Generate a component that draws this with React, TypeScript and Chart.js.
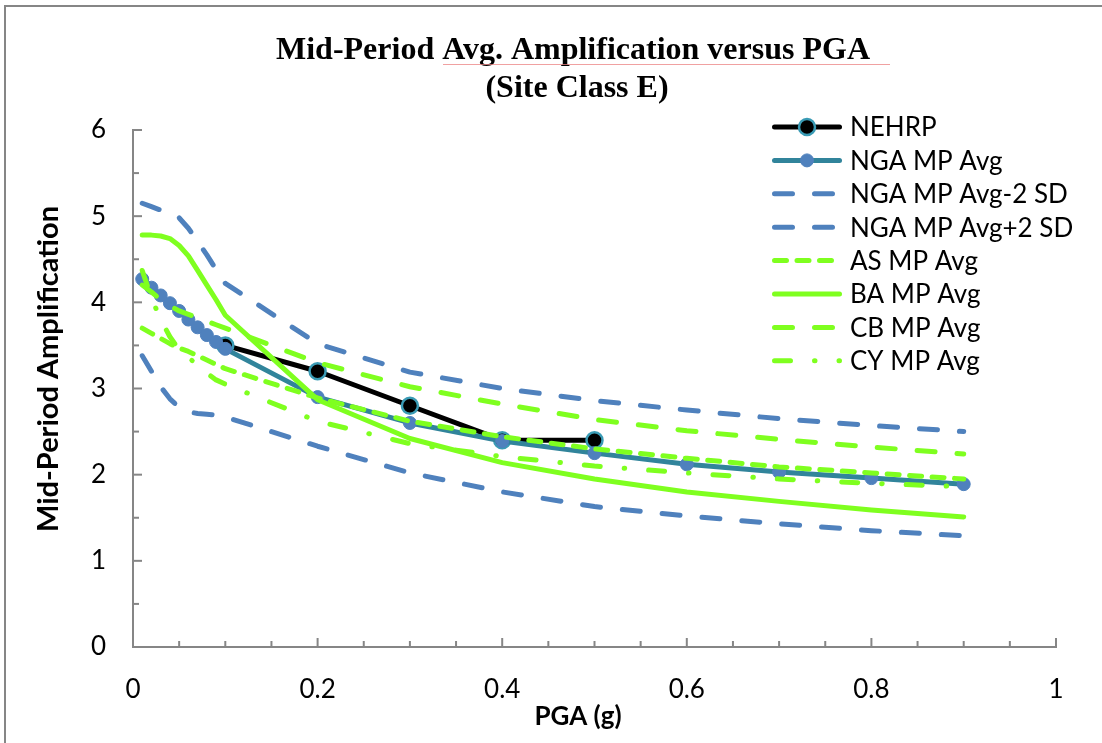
import React, { useEffect, useRef } from 'react';
import { Chart, registerables } from 'chart.js';

Chart.register(...registerables);

// ---- data ----
const PGA = [0.01, 0.02, 0.03, 0.04, 0.05, 0.06, 0.07, 0.08, 0.09, 0.1, 0.2, 0.3, 0.4, 0.5, 0.6, 0.7, 0.8, 0.9];
const NEHRP_PGA = [0.1, 0.2, 0.3, 0.4, 0.5];
const NEHRP = [3.5, 3.2, 2.8, 2.4, 2.4];
const NGA_AVG = [4.27, 4.17, 4.08, 3.99, 3.9, 3.8, 3.71, 3.62, 3.54, 3.46, 2.9, 2.6, 2.39, 2.25, 2.12, 2.03, 1.96, 1.89];
const NGA_MINUS_2SD = [3.38, 3.2, 3.02, 2.88, 2.78, 2.73, 2.71, 2.7, 2.69, 2.67, 2.33, 2.02, 1.8, 1.63, 1.52, 1.43, 1.35, 1.29];
const NGA_PLUS_2SD = [5.15, 5.11, 5.07, 5.04, 4.98, 4.86, 4.71, 4.55, 4.38, 4.22, 3.52, 3.19, 3.0, 2.86, 2.75, 2.65, 2.57, 2.5];
const AS_AVG = [3.7, 3.64, 3.58, 3.52, 3.47, 3.43, 3.38, 3.33, 3.28, 3.23, 2.89, 2.62, 2.44, 2.3, 2.19, 2.09, 2.02, 1.95];
const BA_AVG = [4.78, 4.78, 4.77, 4.74, 4.66, 4.54, 4.37, 4.2, 4.03, 3.85, 2.87, 2.42, 2.14, 1.95, 1.8, 1.69, 1.59, 1.51];
const CB_AVG = [4.2, 4.12, 4.03, 3.96, 3.9, 3.86, 3.82, 3.78, 3.74, 3.7, 3.3, 3.02, 2.82, 2.64, 2.51, 2.41, 2.32, 2.24];
const CY_AVG = [4.37, 4.05, 3.8, 3.6, 3.45, 3.36, 3.27, 3.18, 3.1, 3.05, 2.62, 2.36, 2.21, 2.1, 2.02, 1.95, 1.9, 1.86];

const SERIES_NAMES = ['NEHRP', 'NGA MP Avg', 'NGA MP Avg-2 SD', 'NGA MP Avg+2 SD', 'AS MP Avg', 'BA MP Avg', 'CB MP Avg', 'CY MP Avg'];
const TITLE_LINES = ['Mid-Period Avg. Amplification versus PGA', '(Site Class E)'];
const X_TITLE = 'PGA (g)';
const Y_TITLE = 'Mid-Period Amplification';

const BLUE = '#4F81BD';
const TEAL = '#31849B';
const GREEN = '#7FFF1F';
const AXIS_GRAY = '#868686';
const SANS = 'Lato';

const pts = (xs: number[], ys: number[]) => xs.map((x, i) => ({ x, y: ys[i] }));

const decorPlugin = {
  id: 'decor',
  afterDraw(chart: any) {
    const { ctx, chartArea, scales } = chart;
    const xs = scales.x;
    const ys = scales.y;
    ctx.save();
    // outer frame (top & left)
    ctx.strokeStyle = AXIS_GRAY;
    ctx.lineWidth = 2;
    ctx.beginPath();
    ctx.moveTo(5, 743);
    ctx.lineTo(5, 6);
    ctx.lineTo(1102, 6);
    ctx.stroke();

    // inside tick marks
    ctx.lineWidth = 2;
    ctx.strokeStyle = AXIS_GRAY;
    for (let i = 0; i <= 20; i++) {
      const px = xs.getPixelForValue(i * 0.05);
      const len = i % 4 === 0 ? 9 : 6;
      ctx.beginPath();
      ctx.moveTo(px, chartArea.bottom);
      ctx.lineTo(px, chartArea.bottom - len);
      ctx.stroke();
    }
    for (let i = 0; i <= 12; i++) {
      const py = ys.getPixelForValue(i * 0.5);
      const len = i % 2 === 0 ? 9 : 6;
      ctx.beginPath();
      ctx.moveTo(chartArea.left, py);
      ctx.lineTo(chartArea.left + len, py);
      ctx.stroke();
    }

    // title
    ctx.fillStyle = '#000';
    ctx.font = 'bold 32px "Liberation Serif"';
    ctx.textAlign = 'center';
    ctx.textBaseline = 'alphabetic';
    ctx.fillText(TITLE_LINES[0], 573, 59);
    ctx.fillText(TITLE_LINES[1], 577, 97);
    // faint spell-check underline
    ctx.strokeStyle = 'rgba(235,130,130,0.75)';
    ctx.lineWidth = 1;
    ctx.beginPath();
    ctx.moveTo(443, 64.5);
    ctx.lineTo(890, 64.5);
    ctx.stroke();

    // axis titles
    ctx.font = `bold 26px ${SANS}`;
    ctx.textBaseline = 'middle';
    ctx.fillText(X_TITLE, 578, 717);
    ctx.save();
    ctx.translate(49, 369);
    ctx.rotate(-Math.PI / 2);
    ctx.font = `bold 29px ${SANS}`;
    ctx.fillText(Y_TITLE, 0, 0);
    ctx.restore();

    // legend
    chart.data.datasets.forEach((ds: any, i: number) => {
      const cy = 127 + i * 33.4;
      ctx.save();
      ctx.strokeStyle = ds.borderColor;
      ctx.lineWidth = ds.borderWidth;
      ctx.lineCap = 'round';
      ctx.setLineDash(ds.borderDash || []);
      ctx.beginPath();
      ctx.moveTo(774.5, cy);
      ctx.lineTo(839.5, cy);
      ctx.stroke();
      ctx.setLineDash([]);
      if (ds.pointRadius > 0) {
        ctx.beginPath();
        ctx.arc(807, cy, ds.pointRadius, 0, Math.PI * 2);
        ctx.fillStyle = ds.pointBackgroundColor;
        ctx.fill();
        ctx.lineWidth = ds.pointBorderWidth;
        ctx.strokeStyle = ds.pointBorderColor;
        ctx.stroke();
      }
      ctx.fillStyle = '#000';
      ctx.font = `26px ${SANS}`;
      ctx.textAlign = 'left';
      ctx.textBaseline = 'middle';
      ctx.fillText(ds.label, 850, cy + 1);
      ctx.restore();
    });
    ctx.restore();
  },
};

const lineBase = {
  fill: false,
  tension: 0,
  borderWidth: 5,
  borderCapStyle: 'round' as const,
  borderJoinStyle: 'round' as const,
  pointRadius: 0,
  pointHoverRadius: 0,
};

export default function App() {
  const canvasRef = useRef<HTMLCanvasElement | null>(null);

  useEffect(() => {
    const canvas = canvasRef.current;
    if (!canvas) return;
    const chart = new Chart(canvas, {
      type: 'line',
      data: {
        datasets: [
          {
            ...lineBase,
            label: SERIES_NAMES[0],
            data: pts(NEHRP_PGA, NEHRP),
            borderColor: '#000',
            borderWidth: 5,
            pointRadius: 8,
            pointBackgroundColor: '#000',
            pointBorderColor: '#3A9BB5',
            pointBorderWidth: 2.5,
            order: 8,
          },
          {
            ...lineBase,
            label: SERIES_NAMES[1],
            data: pts(PGA, NGA_AVG),
            borderColor: TEAL,
            borderWidth: 5,
            pointRadius: 6.5,
            pointBackgroundColor: BLUE,
            pointBorderColor: BLUE,
            pointBorderWidth: 1,
            order: 7,
          },
          {
            ...lineBase,
            label: SERIES_NAMES[2],
            data: pts(PGA, NGA_MINUS_2SD),
            borderColor: BLUE,
            borderDash: [18, 22],
            order: 6,
          },
          {
            ...lineBase,
            label: SERIES_NAMES[3],
            data: pts(PGA, NGA_PLUS_2SD),
            borderColor: BLUE,
            borderDash: [18, 22],
            order: 5,
          },
          {
            ...lineBase,
            label: SERIES_NAMES[4],
            data: pts(PGA, AS_AVG),
            borderColor: GREEN,
            borderDash: [12, 10.5],
            order: 4,
          },
          {
            ...lineBase,
            label: SERIES_NAMES[5],
            data: pts(PGA, BA_AVG),
            borderColor: GREEN,
            order: 3,
          },
          {
            ...lineBase,
            label: SERIES_NAMES[6],
            data: pts(PGA, CB_AVG),
            borderColor: GREEN,
            borderDash: [18, 22],
            order: 2,
          },
          {
            ...lineBase,
            label: SERIES_NAMES[7],
            data: pts(PGA, CY_AVG),
            borderColor: GREEN,
            borderDash: [16, 24, 0.5, 24],
            order: 1,
          },
        ],
      },
      options: {
        responsive: false,
        animation: false,
        layout: { padding: { left: 20, right: 46, top: 130, bottom: 0 } },
        plugins: {
          legend: { display: false },
          title: { display: false },
          tooltip: { enabled: false },
        },
        scales: {
          x: {
            type: 'linear',
            min: 0,
            max: 1,
            afterFit: (s: any) => {
              s.height = 96;
            },
            grid: { display: false, drawTicks: false },
            border: { display: true, color: AXIS_GRAY, width: 2 },
            ticks: {
              stepSize: 0.2,
              padding: 27,
              color: '#000',
              maxRotation: 0,
              autoSkip: false,
              font: { family: SANS, size: 26 },
              callback: (v: any) => String(Math.round(Number(v) * 10) / 10),
            },
          },
          y: {
            type: 'linear',
            min: 0,
            max: 6,
            afterFit: (s: any) => {
              s.width = 113;
            },
            grid: { display: false, drawTicks: false },
            border: { display: true, color: AXIS_GRAY, width: 2 },
            ticks: {
              stepSize: 1,
              padding: 27,
              color: '#000',
              font: { family: SANS, size: 26 },
              callback: (v: any) => String(v),
            },
          },
        },
      },
      plugins: [decorPlugin],
    } as any);
    return () => chart.destroy();
  }, []);

  return (
    <div style={{ position: 'absolute', left: 0, top: 0, width: 1102, height: 743, background: '#fff' }}>
      <canvas ref={canvasRef} width={1102} height={743} style={{ display: 'block' }} />
    </div>
  );
}
